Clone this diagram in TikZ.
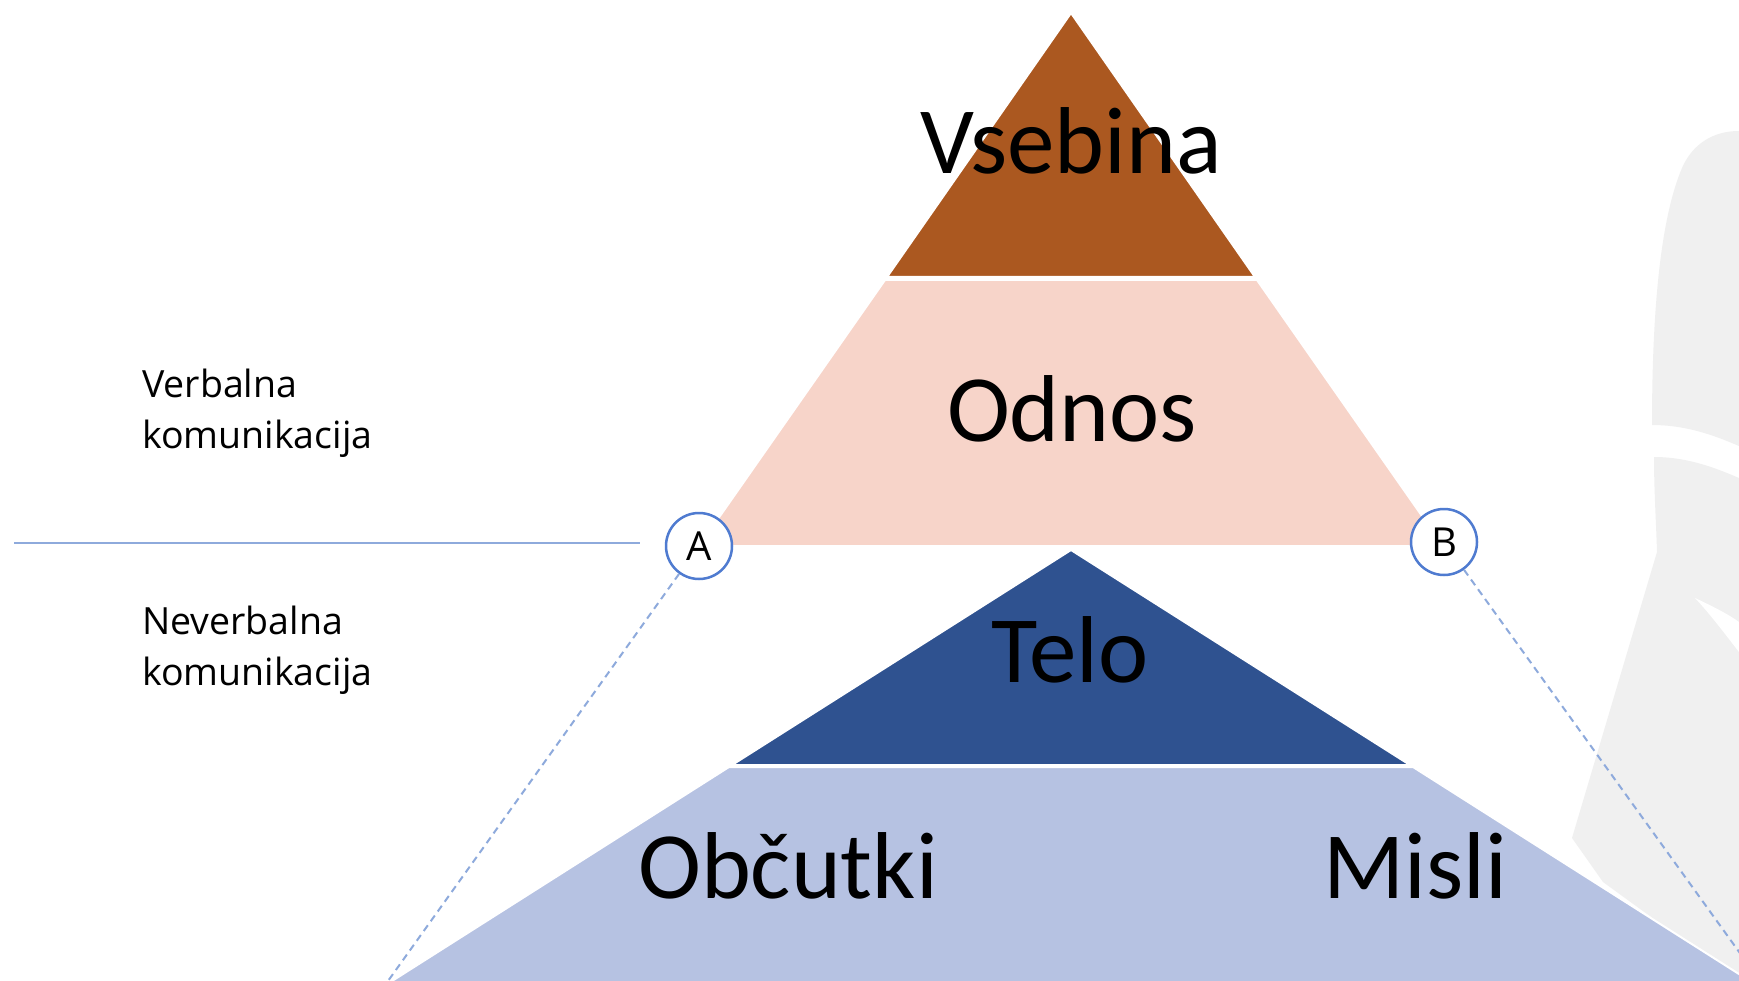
\documentclass[tikz,border=0pt]{standalone}
\usepackage{fontspec}
\setmainfont{Carlito}
\newfontfamily\sidefont{Open Sans}
\definecolor{brownA}{HTML}{AB5820}
\definecolor{pinkA}{HTML}{F7D4C9}
\definecolor{navyA}{HTML}{2F5290}
\definecolor{lblueA}{HTML}{B6C2E2}
\definecolor{ringA}{HTML}{4F7BD0}
\definecolor{dlineA}{HTML}{8EAADC}
\definecolor{ghostA}{HTML}{F0F0F0}
\begin{document}
\begin{tikzpicture}[x=1pt,y=-1pt,
  layer/.style={draw=white,line width=2pt},
  big/.style={font=\fontsize{95}{100}\selectfont,anchor=base,inner sep=0pt},
  side/.style={font=\sidefont\fontsize{37.5}{51}\selectfont,anchor=base west,inner sep=0pt},
  ringnode/.style={circle,draw=ringA,line width=2.5pt,fill=white,minimum size=66pt,inner sep=0pt,font=\sidefont\fontsize{40}{42}\selectfont},
  guide/.style={draw=dlineA,line width=2.4pt},
  dashguide/.style={draw=dlineA,line width=2pt,dash pattern=on 7pt off 5pt}]
\fill[white] (0,0) rectangle (1739,981);
\useasboundingbox (0,0) rectangle (1739,981);
\begin{scope}
\clip (0,0) rectangle (1739,981);
% grey background silhouette
\fill[ghostA] (1739,131) .. controls (1712,131) and (1692,145) .. (1682,168)
  .. controls (1662,215) and (1652,300) .. (1652,425)
  .. controls (1690,425) and (1720,438) .. (1739,446) -- cycle;
\fill[ghostA] (1654,457) .. controls (1690,457) and (1720,470) .. (1739,478)
  -- (1739,981) -- (1603,882) -- (1572,838) -- (1657,552)
  .. controls (1656,520) and (1654,490) .. (1654,457) -- cycle;
\fill[white] (1695,598) .. controls (1712,606) and (1728,614) .. (1739,622)
  -- (1739,652) .. controls (1725,634) and (1710,614) .. (1695,598) -- cycle;
% pyramid layers
\filldraw[layer,fill=brownA] (1071,13) -- (887,277) -- (1255,277) -- cycle;
\filldraw[layer,fill=pinkA] (885,280) -- (1257,280) -- (1443,546) -- (699,546) -- cycle;
\filldraw[layer,fill=navyA] (1071,550) -- (732,765) -- (1410,765) -- cycle;
\filldraw[layer,fill=lblueA] (729,767) -- (1413,767) -- (1772,995) -- (370,995) -- cycle;
% connectors
\coordinate (lineL) at (14,543);
\coordinate (lineR) at (640,543);
\coordinate (cornerL) at (388,981);
\coordinate (cornerR) at (1760,981);
\node[ringnode] (A) at (699,546) {A};
\node[ringnode] (B) at (1444,542) {B};
\draw[guide] (lineL) -- (lineR);
\draw[dashguide] (A) -- (cornerL);
\draw[dashguide] (B) -- (cornerR);
\end{scope}
% texts
\node[big] (vsebina) at (1071,174) {Vsebina};
\node[big] (odnos) at (1072,441) {Odnos};
\node[big] (telo) at (1070,682) {Telo};
\node[big] (obcutki) at (788,898) {Občutki};
\node[big] (misli) at (1415,898) {Misli};
\node[side] (verb1) at (142,397) {Verbalna};
\node[side] (verb2) at (142,448) {komunikacija};
\node[side] (nev1) at (142,634) {Neverbalna};
\node[side] (nev2) at (142,685) {komunikacija};
\end{tikzpicture}
\end{document}
